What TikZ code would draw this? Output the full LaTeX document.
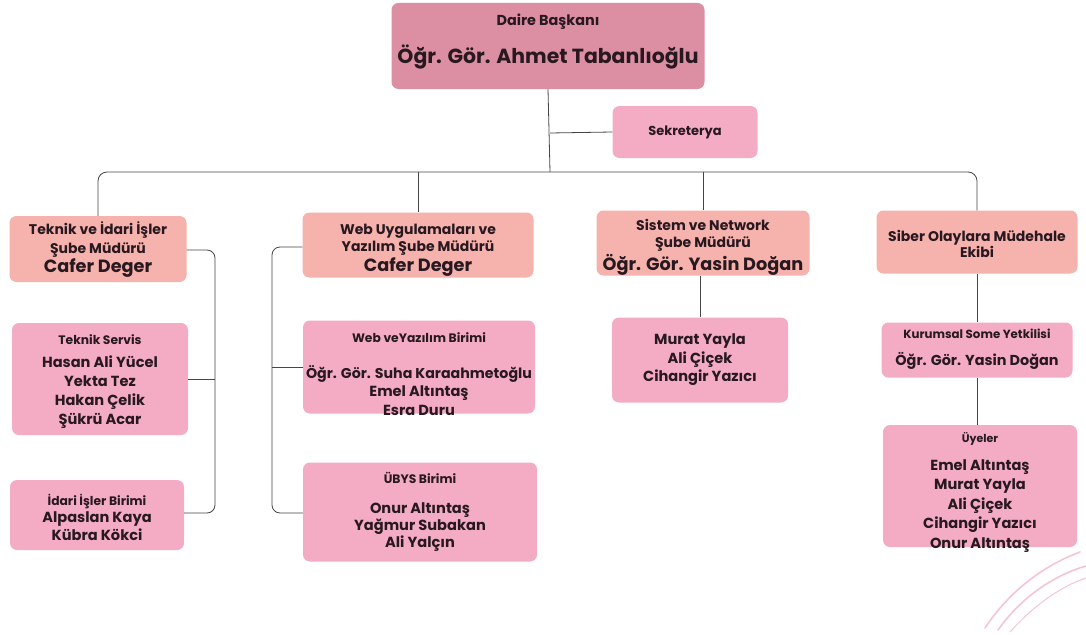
\documentclass[tikz,border=0pt]{standalone}
\usepackage{fontspec}
\setmainfont{Poppins}
\definecolor{topc}{RGB}{220,142,162}
\definecolor{headc}{RGB}{246,178,172}
\definecolor{memc}{RGB}{244,172,196}
\definecolor{txt}{RGB}{40,24,32}
\definecolor{linec}{RGB}{70,70,70}
\definecolor{decoc}{RGB}{246,196,214}
\newcommand\sz[2]{\fontsize{#1}{#2}\selectfont}
\newcommand\tl[1]{\sz{14}{17}#1}
\newcommand\hn[1]{\sz{17.7}{20}#1}
\newcommand\st[1]{\sz{12.3}{14}#1}
\newcommand\nm[1]{\sz{14.6}{18}#1}
\begin{document}
\begin{tikzpicture}[x=1pt,y=-1pt,
  box/.style={rectangle,rounded corners=7pt,inner sep=0pt},
  topbox/.style={box,fill=topc},
  headbox/.style={box,fill=headc},
  membox/.style={box,fill=memc},
  lbl/.style={align=center,text=txt,inner sep=0pt,font=\bfseries\sz{14}{#1}},
  conn/.style={draw=linec,line width=0.8pt},
  deco/.style={draw=decoc,line width=1.6pt,line cap=round}]
\useasboundingbox (0,0) rectangle (1086,634);
\fill[white] (0,0) rectangle (1086,634);
% decorative strokes
\draw[deco] (985,628) .. controls (1010,590) and (1045,565) .. (1080,552);
\draw[deco] (998,630) .. controls (1022,596) and (1055,575) .. (1086,566);
\draw[deco,line width=1pt] (1010,632) .. controls (1035,604) and (1062,586) .. (1086,578);
% boxes
\node[topbox,minimum width=313,minimum height=86] (top) at (548,46) {};
\node[membox,minimum width=145,minimum height=52] (sek) at (685,132) {};
\node[headbox,minimum width=177,minimum height=66] (h1) at (98,249) {};
\node[membox,minimum width=176,minimum height=112] (ts) at (100,379) {};
\node[membox,minimum width=174,minimum height=70] (iib) at (97,515) {};
\node[headbox,minimum width=231,minimum height=65] (h2) at (418,245) {};
\node[membox,minimum width=232,minimum height=93] (wyb) at (419,367) {};
\node[membox,minimum width=234,minimum height=99] (ubys) at (420,512) {};
\node[headbox,minimum width=213,minimum height=65] (h3) at (703,243) {};
\node[membox,minimum width=176,minimum height=85] (mya) at (700,360) {};
\node[headbox,minimum width=201,minimum height=63] (h4) at (977,242) {};
\node[membox,minimum width=191,minimum height=55] (ksy) at (977,350) {};
\node[membox,minimum width=194,minimum height=122] (uy) at (980,486) {};
% texts
\node[lbl=24] (topt) at ([yshift=4pt]top.center)
  {\sz{14.4}{16}Daire Başkanı\\[14pt] \sz{20.4}{24}Öğr. Gör. Ahmet Tabanlıoğlu};
\node[lbl=15] (sekt) at (sek.center) {\sz{13}{15}Sekreterya};
\node[lbl=18.5] (h1t) at ([yshift=-1pt]h1.center)
  {\tl{Teknik ve İdari İşler}\\ \tl{Şube Müdürü}\\[1pt] \hn{Cafer Deger}};
\node[lbl=19] (tst) at ([yshift=-3pt]ts.center)
  {\st{Teknik Servis}\\[4pt] \nm{Hasan Ali Yücel}\\ \nm{Yekta Tez}\\ \nm{Hakan Çelik}\\ \nm{Şükrü Acar}};
\node[lbl=17.5] (iibt) at ([yshift=-2pt]iib.center)
  {\st{İdari İşler Birimi}\\ \nm{Alpaslan Kaya}\\ \nm{Kübra Kökci}};
\node[lbl=17.5] (h2t) at ([yshift=-5pt]h2.center)
  {\tl{Web Uygulamaları ve}\\ \tl{Yazılım Şube Müdürü}\\[1pt] \hn{Cafer Deger}};
\node[lbl=18.5] (wybt) at ([yshift=-7pt]wyb.center)
  {\st{Web veYazılım Birimi}\\[17pt] \sz{14.2}{18}Öğr. Gör. Suha Karaahmetoğlu\\ \nm{Emel Altıntaş}\\ \nm{Esra Duru}};
\node[lbl=17] (ubyst) at (ubys.center)
  {\st{ÜBYS Birimi}\\[13pt] \nm{Onur Altıntaş}\\ \nm{Yağmur Subakan}\\ \nm{Ali Yalçın}};
\node[lbl=17] (h3t) at ([yshift=-4pt]h3.center)
  {\tl{Sistem ve Network}\\ \tl{Şube Müdürü}\\[2pt] \hn{Öğr. Gör. Yasin Doğan}};
\node[lbl=18.5] (myat) at (mya.center)
  {\nm{Murat Yayla}\\ \nm{Ali Çiçek}\\ \nm{Cihangir Yazıcı}};
\node[lbl=15.5] (h4t) at ([yshift=-2pt]h4.center)
  {\tl{Siber Olaylara Müdehale}\\ \tl{Ekibi}};
\node[lbl=27] (ksyt) at ([yshift=1pt]ksy.center)
  {\sz{11.8}{14}Kurumsal Some Yetkilisi\\ \sz{14.4}{16}Öğr. Gör. Yasin Doğan};
\node[lbl=19.5] (uyt) at ([yshift=-6pt]uy.center)
  {\sz{11}{13}Üyeler\\[8.5pt] \nm{Emel Altıntaş}\\ \nm{Murat Yayla}\\ \nm{Ali Çiçek}\\ \nm{Cihangir Yazıcı}\\ \nm{Onur Altıntaş}};
% helper coordinates
\coordinate (bus) at (550,172);
\coordinate (sekj) at (550,133);
\coordinate (b1) at (215,250);
\coordinate (b1e) at (215,513);
\coordinate (b2) at (272,247);
\coordinate (b2e) at (272,513);
% connectors
\draw[conn] (top.south) -- (bus);
\draw[conn] (sekj) -- (sek.west);
\draw[conn,rounded corners=9pt] (h1.north) -- (h1.north |- bus) -- (h4.north |- bus) -- (h4.north);
\draw[conn] (h2.north) -- (h2.north |- bus);
\draw[conn] (h3.north) -- (h3.north |- bus);
\draw[conn,rounded corners=8pt] (h1.east |- b1) -- (b1) -- (b1e) -- (iib.east |- b1e);
\draw[conn] (ts.east) -- (ts.east -| b1);
\draw[conn,rounded corners=8pt] (h2.west |- b2) -- (b2) -- (b2e) -- (ubys.west |- b2e);
\draw[conn] (wyb.west) -- (wyb.west -| b2);
\draw[conn] (mya.north |- h3.south) -- (mya.north);
\draw[conn] (h4.south) -- (h4.south |- ksy.north);
\draw[conn] (ksy.south) -- (ksy.south |- uy.north);
\end{tikzpicture}
\end{document}
